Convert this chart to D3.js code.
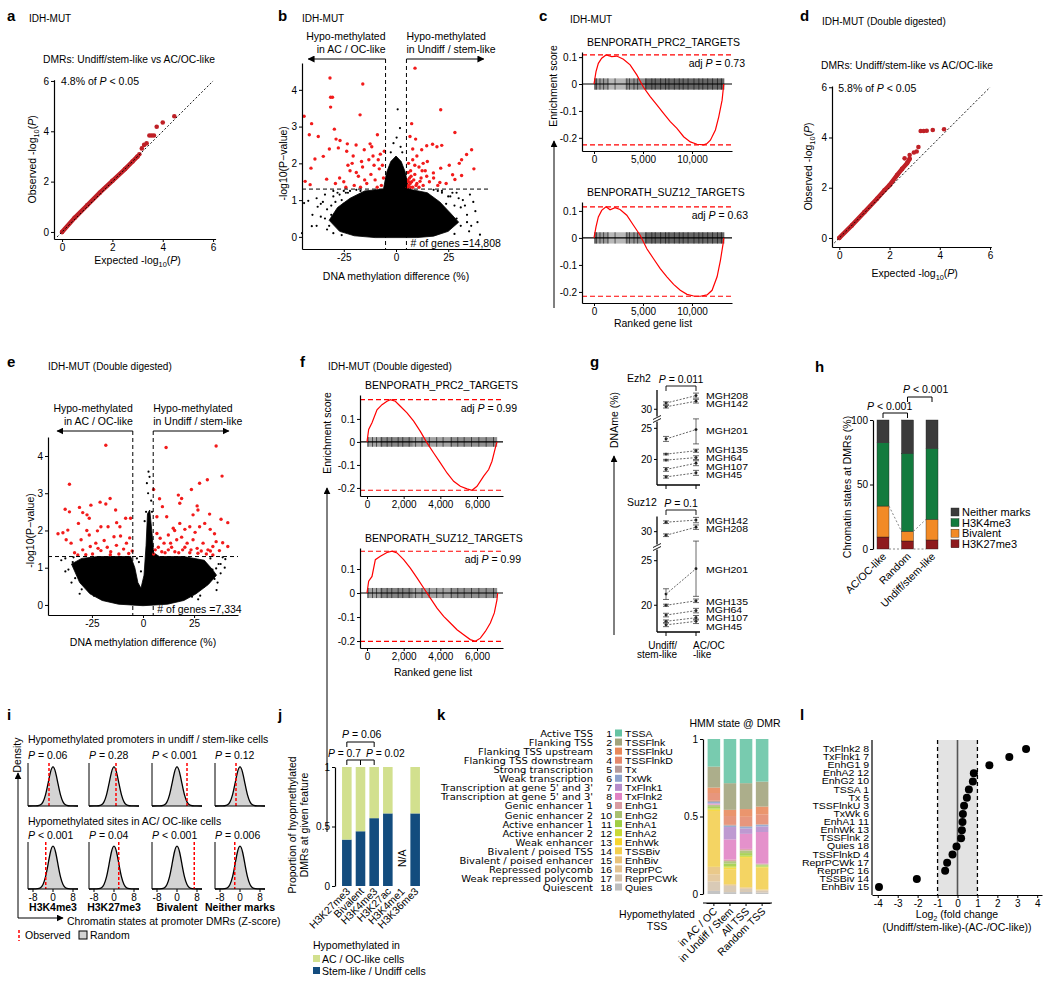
<!doctype html>
<html>
<head>
<meta charset="utf-8">
<title>IDH-MUT DMR figure</title>
<style>
  body { margin:0; background:#fff; }
  svg { font-family: "Liberation Sans", Arial, sans-serif; }
</style>
</head>
<body>
<script src="https://d3js.org/d3.v7.min.js"></script>
<script>
// ---------------- data ----------------
// a, d : QQ plots  [expected, observed]
var qqA = [[0,0],[0.5,0.56],[1,1.06],[1.5,1.56],[2,2.03],[2.5,2.5],[2.8,2.8],[3,3]];
var qqAOut = [[3.07,3.09],[3.17,3.32],[3.26,3.46],[3.36,3.52],[3.47,3.83],[3.56,3.83],[3.65,3.83],[3.76,4.18],[4,4.35],[4.46,4.6]];
var qqD = [[0,0],[0.5,0.5],[1,1.03],[1.5,1.56],[1.8,1.9],[2,2.1],[2.3,2.5],[2.5,2.75],[2.7,2.98],[2.8,3.15]];
var qqDOut = [[2.6,3.17],[2.8,3.3],[2.97,3.4],[3.08,3.44],[3.15,3.62],[3.24,4.26],[3.36,4.26],[3.48,4.27],[3.72,4.3],[4.17,4.33]];

// b : volcano (methylation difference %, -log10 p)
var bRed = [[-31.6,4.32],[-15.9,4.16],[-31.3,3.8],[-30.4,3.8],[-31.3,3.53],[-17.2,3.32],[-44,3.28],[-40.4,3.08],
  [9.1,4.59],[21.4,3.46],[7.5,3.08],[-29.5,2.93],[-41.5,2.78],[-37.2,2.73],[-8.9,2.78],[28.2,2.84],
  [6.7,2.73],[9.4,2.66],[-28.7,2.66],[-26.8,2.62],[-23.3,2.53],[-19.1,2.5],[-12.4,2.53],[-11.6,2.45],
  [14.7,2.48],[17.5,2.52],[19.6,2.45],[21.9,2.49],[8,2.39],[12.3,2.37],[-31.9,2.39],[-27.6,2.42],
  [-23.6,2.33],[-15.2,2.37],[-5.6,2.33],[-34.8,2.19],[-38.8,2.12],[31.4,2.1],[33.8,2.24],[36.2,2.37],
  [30.3,2.0],[25.5,1.95],[21.4,1.87],[37.3,1.85],[-40.7,1.87],[27.1,1.69],[31.4,1.67],[28.2,1.56],
  [-43.5,1.51],[-41.1,1.42],[-33.2,1.57],[17.9,1.74],[14.7,1.65],[21,1.48],[11.5,1.51],
  [-25,1.5],[-22,1.8],[-20,1.4],[-18,1.65],[-16,1.9],[-14,1.45],[-12,1.7],[-10,1.55],[-8,1.85],[-7,1.4],
  [-6,1.6],[-24,1.35],[-21,2.0],[-17,1.35],[-13,2.1],[-9,1.35],[-11,2.2],[-19,1.75],[-15,1.55],[-23,1.95],
  [-27,1.6],[-29,1.45],[-6.5,1.95],[-8.5,2.1],[-20.5,2.2],[-16.5,2.05],[-10.5,1.95],[-7.5,2.25],
  [6,1.4],[6.5,1.6],[7,1.8],[7.5,1.5],[8,1.35],[9,1.7],[10,1.45],[11,1.9],[12,1.6],[13,1.4],[6,2.0],
  [8,2.1],[10,2.2],[14,1.8],[16,1.5],[5.5,1.35],[7,1.35],[9,1.95],[6,1.5],[8.5,1.55],[18,1.6],[20,1.4],
  [15,2.05],[11,1.35],[5.8,1.75],[6.8,1.45],[7.2,1.65],[5.6,1.55],[9.6,1.4],[13,2.0],[24,1.45],[12.5,1.8]];
var bBlack = [[-44,0.92],[-42,0.98],[-40.3,0.29],[-37.5,0.82],[-35,0.95],[-33,0.75],[-30,1.1],[-36,0.55],
  [-28,1.2],[-38,1.05],[-25,1.25],[35.4,1.15],[40.2,0.06],[33,0.85],[30,1.05],[27,1.2],[36,0.3],
  [0.8,3.47],[1.9,2.96],[-1.2,2.55],[2.2,2.45],[0.3,2.7],[-2.5,2.3],[3,2.3],[-32,0.3],[38,0.7],
  [-34,0.5],[-31,0.85],[-29,0.4],[-26,1.0],[-23,1.2],[29,0.5],[31,0.8],[25,1.1],[22,1.25],[34,0.4],
  [-40,0.6],[-38,0.3],[-36,0.9],[-34,1.15],[-33,0.2],[-31,0.6],[-30,1.25],[-29,0.95],[-27,1.15],[-27,0.45],
  [-25,0.9],[-24,1.2],[-22,1.25],[-21,0.6],[-19,1.28],[-17,1.25],[-45,0.1],[22,1.2],[24,0.9],[26,1.1],
  [27,0.5],[28,0.85],[29,1.2],[31,0.3],[32,1.0],[34,0.6],[35,0.15],[37,0.95],[39,0.4],[20,1.25],[18,1.28],
  [-30,0.1],[-26,0.05],[28,0.08]];
var bCloudTop = [[-32,0.45],[-28,0.8],[-22,1.05],[-15,1.25],[-6,1.3],[-4.5,1.75],[-2.5,2.05],[0,2.2],
  [2.5,2.05],[4.5,1.75],[6,1.3],[15,1.2],[21,0.95],[26,0.65],[30,0.4]];
var bCloudBottom = [[25,0.15],[18,0.02],[10,-0.02],[-10,-0.02],[-20,0.03],[-27,0.15]];

// e : volcano, double digested
var eRed = [[-18.2,4.29],[11.3,4.23],[35.8,4.27],[-36,3.24],[38.7,3.46],[31.5,3.36],[27.7,3.27],[23.7,3.1],[5.2,3.1],
  [-16.1,2.86],[-21,2.76],[-18.2,2.71],[-25.5,2.68],[-31.1,2.62],[-13.4,2.55],[-38.1,2.57],[-36,2.5],
  [8.1,2.85],[17.3,2.95],[18.9,2.86],[9.5,2.64],[18,2.73],[26.5,2.66],[26.9,2.55],[32.6,2.44],[24.5,2.42],
  [38.2,2.3],[41.5,2.21],[-29.5,2.48],[-27.4,2.42],[-26.3,2.33],[-8.5,2.33],[-6.1,2.33],[-12.9,2.21],
  [-31.6,2.19],[-36.8,2.01],[-22.3,1.99],[-20.6,2.1],[-17.1,2.1],[-11.3,2.1],[-41.6,1.91],[-39.2,1.94],
  [-37.6,1.75],[-35.2,1.66],[-30.3,1.75],[-26.3,1.88],[-25.8,1.57],[-23.1,1.66],[-19,1.73],[-14.2,1.83],
  [-11,1.85],[-8.1,1.66],[-29.5,1.48],[-20.6,1.46],[-15.8,1.43],[-5.3,1.45],[-31.9,1.34],[-24.7,1.37],[-11.8,1.37],
  [6.8,2.37],[11.6,2.37],[18,2.19],[14.8,2.06],[20.5,2.03],[22.9,2.1],[27.7,2.1],[30.2,2.19],[32.9,2.03],
  [35,1.91],[35.8,1.7],[39,1.67],[41.5,1.57],[6.8,1.92],[8.4,1.79],[10.3,1.66],[12.4,1.88],[13.5,1.66],
  [16.5,1.75],[18.9,1.82],[21.6,1.66],[24.5,1.75],[26.5,1.52],[29.4,1.66],[31.8,1.48],[34.2,1.57],[37.4,1.46],
  [6,1.48],[9.2,1.43],[12.4,1.48],[15.6,1.43],[19.4,1.48],[22.9,1.4],[26.9,1.39],[31,1.37],[5.2,1.37],[34.2,1.34],
  [-33.5,1.4],[-28,1.35],[-22,1.52],[-17.5,1.55],[-13,1.6],[-9.5,1.5],[-7,1.38],[-16,1.35],[-6.5,1.8],[-27.5,2.0],
  [7.5,1.55],[10.8,1.4],[14,1.55],[17.5,1.4],[20.5,1.55],[23.5,1.48],[28.5,1.45],[33,1.45],[25.5,1.95],[15.5,2.0]];
var eBlack = [[-34.4,1.15],[-33.2,0.72],[-30,0.42],[-25.5,0.35],[-38,1.25],[-28,1.05],[-36.5,0.95],[35.8,0.98],
  [40.3,1.23],[38,1.1],[33,0.7],[28,0.25],[36.5,0.6],[2.7,3.58],[3.2,3.44],[1.9,3.27],[1.5,2.5],[0.8,2.25],
  [2.5,3.0],[4,2.8],[4.4,2.5],[-1,0.9],[-2,1.15],[-3,1.25],[-32,0.9],[-29,0.6],[30,0.5],[34,0.95],[-24,0.25],[24,0.22],
  [-40,1.2],[-38,0.9],[-35,0.6],[-33,1.0],[-31,0.3],[-29,0.8],[-27,1.2],[-26,0.55],[-24,0.9],[-22,0.4],[-34,1.28],
  [33,1.25],[35,0.7],[37,1.1],[38,0.85],[36,0.4],[31,0.9],[29,0.6],[27,0.15],[39,1.28],[40,1.0]];
var eCloudTop = [[-35,1.1],[-30,1.25],[-22,1.3],[-12,1.3],[-6,1.3],[-4,1.0],[-2.5,0.6],[-1,0.45],[0.5,0.8],
  [1.5,1.6],[2.2,2.45],[3.3,2.55],[4.3,2.0],[5.2,1.4],[8,1.3],[20,1.3],[30,1.2],[34,0.95],[36,0.8]];
var eCloudBottom = [[32,0.55],[26,0.3],[20,0.12],[12,0.02],[0,-0.02],[-12,0.02],[-20,0.12],[-26,0.3],[-31,0.6]];

// c, f : GSEA running enrichment score [rank, ES]
var cPrc2 = [[0,0],[205,0.046],[444,0.077],[785,0.096],[1229,0.108],[1809,0.102],[2321,0.104],[3003,0.092],
  [3686,0.071],[4369,0.034],[5051,-0.012],[5734,-0.047],[6416,-0.078],[7099,-0.109],[7782,-0.14],[8464,-0.165],
  [9147,-0.196],[9829,-0.215],[10512,-0.224],[11195,-0.226],[11536,-0.221],[11877,-0.209],[12389,-0.171],
  [12730,-0.122],[13072,-0.06],[13242,0]];
var cSuz12 = [[0,0],[205,0.041],[444,0.078],[785,0.102],[1229,0.115],[1638,0.104],[2150,0.112],[2662,0.105],
  [3345,0.084],[4027,0.047],[4710,0.01],[5392,-0.04],[6075,-0.077],[6758,-0.114],[7440,-0.144],[8123,-0.172],
  [8805,-0.194],[9488,-0.209],[10171,-0.215],[10853,-0.216],[11536,-0.211],[12048,-0.194],[12560,-0.144],
  [12901,-0.083],[13174,-0.021],[13242,0]];
var fPrc2 = [[0,0],[91,0.054],[273,0.083],[545,0.14],[818,0.162],[1091,0.177],[1273,0.184],[1545,0.177],
  [1818,0.155],[2182,0.126],[2545,0.09],[2909,0.046],[3273,-0.004],[3636,-0.048],[4000,-0.091],[4364,-0.135],
  [4727,-0.171],[5091,-0.193],[5455,-0.204],[5727,-0.21],[6000,-0.193],[6364,-0.149],[6636,-0.12],
  [6818,-0.084],[7000,-0.026],[7091,0]];
var fSuz12 = [[0,0],[91,0.049],[273,0.069],[455,0.139],[727,0.153],[1091,0.169],[1364,0.174],[1636,0.167],
  [2000,0.139],[2364,0.104],[2727,0.063],[3091,0.021],[3455,-0.021],[3818,-0.063],[4182,-0.097],[4545,-0.125],
  [4909,-0.153],[5273,-0.174],[5636,-0.194],[5909,-0.201],[6182,-0.188],[6455,-0.16],[6727,-0.125],
  [6945,-0.083],[7091,-0.028],[7127,0]];
var cBarcode = [[0,1500,0.5],[1500,3200,0.35],[3200,5200,0.55],[5200,13300,0.75]];
var fBarcode = [[0,700,0.45],[700,2500,0.6],[2500,4500,0.45],[4500,7100,0.55]];
var cHits = [120,260,610,980,1420,2150,3350,3620,4080,4450,5300,5900,6250,6800,7300,7650,8200,8700,9100,9600,10200,10700,11100,11600,12100,12600,13000];
var fHits = [60,300,520,800,1100,1350,1700,1950,2300,2650,3000,3400,3800,4150,4600,4950,5300,5700,6100,6500,6900];

// g : DNAme (%) at Ezh2 / Suz12 targets
var ezhPatients = ["MGH208","MGH142","MGH201","MGH135","MGH64","MGH107","MGH45"];
var ezhUndiff = [31.0,30.4,23.3,20.86,19.9,18.4,17.2];
var ezhAcOc = [32.2,31.3,24.8,21.4,20.3,19.4,17.85];
var ezhErrUndiff = [0.2,0.2,0.4,0.12,0.12,0.3,0.2];
var ezhErrAcOc = [0.4,0.3,2.3,0.25,0.3,0.4,0.4];
var suzPatients = ["MGH142","MGH208","MGH201","MGH135","MGH64","MGH107","MGH45"];
var suzUndiff = [31.06,29.6,21.25,20.0,18.9,18.2,17.8];
var suzAcOc = [31.3,30.5,24.1,20.5,19.4,18.6,18.2];
var suzErrUndiff = [0.15,0.15,0.6,0.12,0.2,0.15,0.2];
var suzErrAcOc = [0.3,0.25,3.1,0.2,0.25,0.25,0.25];

// h : chromatin states at DMRs (%)
var hGroups = ["AC/OC-like","Random","Undiff/stem-like"];
var hStates = ["H3K27me3","Bivalent","H3K4me3","Neither marks"];
var hH3K27me3 = [9.3,6.2,7.0];
var hBivalent = [24.0,7.5,16.0];
var hH3K4me3 = [49.1,60.5,55.0];
var hNeither = [17.6,25.8,22.0];

// i : observed z-scores vs random density
var iZ = [-10,-8,-6,-5,-4,-3,-2,-1,0,1,2,3,4,5,6,8,10];
var iDensity = [0,0,0.004,0.021,0.085,0.249,0.539,0.857,1,0.857,0.539,0.249,0.085,0.021,0.004,0,0];
var iMarks = ["H3K4me3","H3K27me3","Bivalent","Neither marks"];
var iObsUndiff = [-1.6,0.8,4.0,-1.6];
var iObsAcOc = [-2.9,1.9,6.9,-2.1];
var iPUndiff = ["= 0.06","= 0.28","< 0.001","= 0.12"];
var iPAcOc = ["< 0.001","= 0.04","< 0.001","= 0.006"];

// j : proportion of hypomethylated DMRs
var jFeatures = ["H3K27me3","Bivalent","H3K4me3","H3K27ac","H3K4me1","H3K36me3"];
var jStem = [0.39,0.46,0.57,0.61,null,0.61];
var jAcOc = [0.61,0.54,0.43,0.39,null,0.39];

// k : 18-state HMM
var kNames = ["Active TSS","Flanking TSS","Flanking TSS upstream","Flanking TSS downstream","Strong transcription",
  "Weak transcription","Transcription at gene 5' and 3'","Transcription at gene 5' and 3'","Genic enhancer 1",
  "Genic enhancer 2","Active enhancer 1","Active enhancer 2","Weak enhancer","Bivalent / poised TSS",
  "Bivalent / poised enhancer","Repressed polycomb","Weak repressed polycomb","Quiescent"];
var kAbbr = ["TSSA","TSSFlnk","TSSFlnkU","TSSFlnkD","Tx","TxWk","TxFlnk1","TxFlnk2","EnhG1","EnhG2","EnhA1",
  "EnhA2","EnhWk","TSSBiv","EnhBiv","ReprPC","ReprPCWk","Quies"];
var kColors = ["#66c4a4","#a1a37c","#e8875a","#e4886c","#b49a9a","#8ea2cc","#b68ccb","#e182c4","#d89ca2","#a9c070",
  "#9fce44","#c8d936","#f6d52e","#f3cf4e","#e8c27b","#e2c393","#d4c3ad","#bdbdbd"];
var kGroups = ["in AC / OC","in Undiff / Stem","All TSS","Random TSS"];
var kAcOc = [0.178,0.135,0.035,0.05,0.008,0.008,0.004,0.004,0.004,0.012,0.01,0.008,0.008,0.36,0.05,0.045,0.06,0.02];
var kUndiff = [0.285,0.172,0.04,0.057,0.006,0.008,0.08,0.13,0.01,0.015,0.017,0.01,0.01,0.097,0.005,0.006,0.04,0.012];
var kAll = [0.285,0.167,0.05,0.06,0.005,0.01,0.035,0.097,0.01,0.017,0.017,0.008,0.006,0.19,0.005,0.005,0.02,0.013];
var kRandom = [0.275,0.161,0.05,0.064,0.004,0.01,0.036,0.204,0.005,0.006,0.008,0.004,0.004,0.14,0.004,0.004,0.012,0.009];

// l : log2 fold change per state (top to bottom)
var lStates = ["TxFlnk2 8","TxFlnk1 7","EnhG1 9","EnhA2 12","EnhG2 10","TSSA 1","Tx 5","TSSFlnkU 3","TxWk 6",
  "EnhA1 11","EnhWk 13","TSSFlnk 2","Quies 18","TSSFlnkD 4","ReprPCWk 17","ReprPC 16","TSSBiv 14","EnhBiv 15"];
var lFold = [3.44,2.6,1.6,0.82,0.77,0.57,0.47,0.33,0.27,0.25,0.22,0.18,-0.05,-0.25,-0.52,-0.62,-2.04,-3.94];

// ---------------- helpers ----------------
var svg = d3.select("body").append("svg").attr("width",1050).attr("height",984);
svg.append("rect").attr("width",1050).attr("height",984).attr("fill","#fff");
var defs = svg.append("defs");
defs.append("marker").attr("id","arr").attr("viewBox","0 0 10 10").attr("refX",9).attr("refY",5)
  .attr("markerWidth",7).attr("markerHeight",7).attr("markerUnits","userSpaceOnUse")
  .attr("orient","auto-start-reverse")
  .append("path").attr("d","M0,0L10,5L0,10z").attr("fill","#000");

function T(x, y, parts, o) {
  o = o || {};
  var size = o.size || 10;
  var t = svg.append("text").attr("font-size",size).attr("text-anchor",o.anchor || "start");
  if (o.sy) t.attr("x",0).attr("y",0).attr("transform","translate(" + x + "," + y + ") scale(1," + o.sy + ")");
  else t.attr("x",x).attr("y",y);
  if (o.weight) t.attr("font-weight",o.weight);
  if (o.family) t.attr("font-family",o.family);
  if (o.fill) t.attr("fill",o.fill);
  if (o.rotate) t.attr("transform","rotate(" + o.rotate + "," + x + "," + y + ")");
  if (typeof parts === "string") parts = [parts];
  var shift = 0;
  parts.forEach(function(p) {
    var s = t.append("tspan");
    if (shift) { s.attr("dy",-shift); shift = 0; }
    if (typeof p === "string") s.text(p);
    else if (p.i) s.attr("font-style","italic").text(p.i);
    else if (p.sub) { s.attr("font-size",size*0.7).attr("dy",size*0.28).text(p.sub); shift = size*0.28; }
  });
  return t;
}
function axis(orient, pos, scale, ticks, fmt, tsize) {
  var a = (orient === "left" ? d3.axisLeft : d3.axisBottom)(scale).tickValues(ticks)
    .tickSize(tsize == null ? 3 : tsize).tickSizeOuter(0).tickPadding(2)
    .tickFormat(fmt || function(d){ return String(d); });
  var g = svg.append("g")
    .attr("transform", orient === "left" ? "translate(" + pos + ",0)" : "translate(0," + pos + ")")
    .call(a);
  g.attr("font-family",null).attr("font-size",10);
  g.select(".domain").attr("stroke-width",1.2);
  return g;
}
function line(x1,y1,x2,y2,o) {
  o = o || {};
  var l = svg.append("line").attr("x1",x1).attr("y1",y1).attr("x2",x2).attr("y2",y2)
    .attr("stroke",o.stroke || "#000").attr("stroke-width",o.width || 1);
  if (o.dash) l.attr("stroke-dasharray",o.dash);
  if (o.arrow) l.attr("marker-end","url(#arr)");
  return l;
}
function letter(x, y, s) { T(x, y, s, {size:15, weight:"bold"}); }

// ---------------- a / d : QQ ----------------
function qq(o) {
  var x = d3.scaleLinear().domain(o.xd).range(o.xr);
  var y = d3.scaleLinear().domain(o.yd).range(o.yr);
  svg.append("path").attr("d", d3.line().x(function(d){return x(d[0]);}).y(function(d){return y(d[1]);})(o.dense))
    .attr("fill","none").attr("stroke","#bf2026").attr("stroke-width",4.5).attr("stroke-linecap","round");
  svg.append("g").selectAll("circle").data(o.dense.concat(o.out)).join("circle")
    .attr("cx",function(d){return x(d[0]);}).attr("cy",function(d){return y(d[1]);})
    .attr("r",2.3).attr("fill","#bf2026");
  line(x(-0.2), y(-0.2), x(6), y(6), {dash:"2,2", width:0.9});
  axis("left", o.xr[0], y, [0,2,4,6]);
  axis("bottom", o.yr[0], x, [0,2,4,6]);
  T(x(0) - 1, o.pY, [o.pct + " of ", {i:"P"}, " < 0.05"], {size:10.5});
  T(o.ylx, (o.yr[0] + o.yr[1]) / 2, ["Observed -log", {sub:"10"}, "(", {i:"P"}, ")"], {anchor:"middle", rotate:-90, size:10.5});
  T((x(0) + x(6)) / 2, o.xlY, ["Expected -log", {sub:"10"}, "(", {i:"P"}, ")"], {anchor:"middle", size:10.5});
}
letter(7, 21, "a");
T(29, 22, "IDH-MUT");
T(129, 63, "DMRs: Undiff/stem-like vs AC/OC-like", {anchor:"middle", size:10.3});
qq({xd:[-0.32,6.1], xr:[54,215.6], yd:[-0.28,6.05], yr:[239,79.7], dense:qqA, out:qqAOut,
    pct:"4.8%", pY:85, ylx:36, xlY:264});

letter(800, 21, "d");
T(822, 25, "IDH-MUT (Double digested)");
T(907, 69, "DMRs: Undiff/stem-like vs AC/OC-like", {anchor:"middle", size:10.3});
qq({xd:[-0.29,6.05], xr:[832,991.3], yd:[-0.36,6.05], yr:[247,86], dense:qqD, out:qqDOut,
    pct:"5.8%", pY:92, ylx:812, xlY:277});

// ---------------- b / e : volcano ----------------
function volcano(o) {
  var x = d3.scaleLinear().domain(o.xd).range(o.xr);
  var y = d3.scaleLinear().domain(o.yd).range(o.yr);
  var poly = o.top.concat(o.bottom);
  svg.append("path")
    .attr("d", d3.line().x(function(d){return x(d[0]);}).y(function(d){return y(d[1]);})
      .curve(d3.curveLinearClosed)(poly))
    .attr("fill","#000").attr("stroke","#000").attr("stroke-width",0.8);
  svg.append("g").selectAll("circle").data(o.black).join("circle")
    .attr("cx",function(d){return x(d[0]);}).attr("cy",function(d){return y(d[1]);}).attr("r",1.1).attr("fill","#000");
  svg.append("g").selectAll("circle").data(o.red).join("circle")
    .attr("cx",function(d){return x(d[0]);}).attr("cy",function(d){return y(d[1]);}).attr("r",1.7).attr("fill","#f21b1b");
  line(o.xr[0], y(1.3), o.xr[1], y(1.3), {dash:"4,3", width:1});
  line(x(-5), o.arrowY, x(-5), o.yr[0], {dash:"4,3", width:1});
  line(x(5), o.arrowY, x(5), o.yr[0], {dash:"4,3", width:1});
  line(x(-5), o.arrowY, x(-42), o.arrowY, {arrow:true, width:1});
  line(x(5), o.arrowY, x(42), o.arrowY, {arrow:true, width:1});
  T(x(-5), o.arrowY - 19, "Hypo-methylated", {anchor:"end", size:10.5});
  T(x(-5), o.arrowY - 6, "in AC / OC-like", {anchor:"end", size:10.5});
  T(x(5), o.arrowY - 19, "Hypo-methylated", {size:10.5});
  T(x(5), o.arrowY - 6, "in Undiff / stem-like", {size:10.5});
  axis("left", o.xr[0], y, [0,1,2,3,4]);
  axis("bottom", o.yr[0], x, [-25,0,25]);
  T(x(7), o.yr[0] - 2, "# of genes =" + o.n, {size:10.5});
  T(o.ylx, y(2), "-log10(P\u2212value)", {anchor:"middle", rotate:-90, size:10.5});
  T(x(0), o.yr[0] + 31, "DNA methylation difference (%)", {anchor:"middle", size:10.5});
}
letter(278, 21, "b");
T(302, 22, "IDH-MUT");
volcano({xd:[-45,45], xr:[302,490], yd:[-0.33,4.73], yr:[249,63], arrowY:59, n:"14,808",
  top:bCloudTop, bottom:bCloudBottom, red:bRed, black:bBlack, ylx:287});

letter(7, 367, "e");
T(48, 370, "IDH-MUT (Double digested)");
volcano({xd:[-46.5,46.5], xr:[48,238], yd:[-0.27,4.51], yr:[615,437], arrowY:431, n:"7,334",
  top:eCloudTop, bottom:eCloudBottom, red:eRed, black:eBlack, ylx:34});

// ---------------- c / f : GSEA ----------------
function gsea(o) {
  var x = d3.scaleLinear().domain(o.xd).range(o.xr);
  var y = d3.scaleLinear().domain(o.yd).range(o.yr);
  svg.append("g").selectAll("rect").data(o.bar).join("rect")
    .attr("x",function(d){return x(d[0]);}).attr("width",function(d){return x(d[1]) - x(d[0]);})
    .attr("y",y(0.021)).attr("height",y(-0.021) - y(0.021))
    .attr("fill","#000").attr("opacity",function(d){return d[2] * 0.8;});
  svg.append("g").selectAll("line").data(o.hits).join("line")
    .attr("x1",function(d){return x(d);}).attr("x2",function(d){return x(d);})
    .attr("y1",y(0.021)).attr("y2",y(-0.021)).attr("stroke","#000").attr("stroke-width",1).attr("opacity",0.55);
  line(o.xr[0], y(0), o.xr[1], y(0), {width:1.2});
  svg.append("path").attr("d", d3.line().x(function(d){return x(d[0]);}).y(function(d){return y(d[1]);})(o.es))
    .attr("fill","none").attr("stroke","#f00").attr("stroke-width",1.2);
  var ext = d3.extent(o.es, function(d){return d[1];});
  line(o.xr[0], y(ext[1]), o.xr[1], y(ext[1]), {stroke:"#f00", dash:"5,3", width:1.2});
  line(o.xr[0], y(ext[0]), o.xr[1], y(ext[0]), {stroke:"#f00", dash:"5,3", width:1.2});
  axis("left", o.xr[0], y, o.yt);
  axis("bottom", o.yr[0], x, o.xt, d3.format(","));
  T(o.xr[0] + 5, o.yr[1] - 6, o.title, {size:10.5});
  T(o.pX, y(ext[1]) + 12, ["adj ", {i:"P"}, " = " + o.p], {anchor:"end", size:10.5});
}
letter(539, 21, "c");
T(570, 23, "IDH-MUT");
gsea({xd:[-1224,14082], xr:[582,732], yd:[-0.249,0.119], yr:[151,52], es:cPrc2, bar:cBarcode, hits:cHits,
  yt:[-0.2,-0.1,0,0.1], xt:[0,5000,10000], title:"BENPORATH_PRC2_TARGETS", p:"0.73", pX:745});
gsea({xd:[-1224,14082], xr:[582,732], yd:[-0.241,0.133], yr:[303,202], es:cSuz12, bar:cBarcode, hits:cHits,
  yt:[-0.2,-0.1,0,0.1], xt:[0,5000,10000], title:"BENPORATH_SUZ12_TARGETS", p:"0.63", pX:748});
T(557, 86, "Enrichment score", {anchor:"middle", rotate:-90, size:10.5});
line(554, 308, 554, 141, {arrow:true});
T(653, 327, "Ranked gene list", {anchor:"middle", size:10.5});

letter(300, 367, "f");
T(328, 370, "IDH-MUT (Double digested)");
gsea({xd:[-382,7418], xr:[360,503], yd:[-0.235,0.204], yr:[496,395], es:fPrc2, bar:fBarcode, hits:fHits,
  yt:[-0.2,-0.1,0,0.1], xt:[0,2000,4000,6000], title:"BENPORATH_PRC2_TARGETS", p:"0.99", pX:517});
gsea({xd:[-382,7418], xr:[360,503], yd:[-0.229,0.1875], yr:[648,548], es:fSuz12, bar:fBarcode, hits:fHits,
  yt:[-0.2,-0.1,0,0.1], xt:[0,2000,4000,6000], title:"BENPORATH_SUZ12_TARGETS", p:"0.99", pX:521});
T(331, 433, "Enrichment score", {anchor:"middle", rotate:-90, size:10.5});
line(327, 832, 327, 488, {arrow:true});
T(433, 676, "Ranked gene list", {anchor:"middle", size:10.5});

// ---------------- g : paired DNAme ----------------
var gx = d3.scalePoint().domain(["Undiff","AC/OC"]).range([666,696]);
function paired(o) {
  var y = d3.scaleLinear().domain(o.yd).range(o.yr);
  var axTop = o.yr[o.yr.length - 1], axBot = o.yr[0];
  line(657, axTop, 657, axBot, {width:1.3});
  o.ticks.forEach(function(t) { line(654, y(t), 657, y(t)); T(652, y(t) + 3.5, String(t), {anchor:"end"}); });
  svg.append("rect").attr("x",652).attr("y",o.brk - 2.5).attr("width",10).attr("height",5).attr("fill","#fff");
  line(653, o.brk + 0.5, 661, o.brk - 3.5, {width:0.9});
  line(653, o.brk + 3.5, 661, o.brk - 0.5, {width:0.9});
  line(657, axBot, 700, axBot, {width:1.3});
  gx.domain().forEach(function(k) { line(gx(k), axBot, gx(k), axBot + 4); });
  var g = svg.append("g");
  o.names.forEach(function(nm, i) {
    var a = o.undiff[i], b = o.acoc[i];
    line(gx("Undiff"), y(a), gx("AC/OC"), y(b), {dash:"2,1.5", stroke:"#555", width:0.9});
    [[gx("Undiff"), a, o.eu[i]], [gx("AC/OC"), b, o.ea[i]]].forEach(function(p) {
      line(p[0], y(p[1] + p[2]), p[0], y(p[1] - p[2]), {stroke:"#444", width:0.8});
      line(p[0] - 3, y(p[1] + p[2]), p[0] + 3, y(p[1] + p[2]), {stroke:"#444", width:0.8});
      line(p[0] - 3, y(p[1] - p[2]), p[0] + 3, y(p[1] - p[2]), {stroke:"#444", width:0.8});
      g.append("circle").attr("cx",p[0]).attr("cy",y(p[1])).attr("r",1.4).attr("fill","#000");
    });
  });
  // labels: relax overlapping neighbours apart
  var ly = o.acoc.map(function(v){ return y(v) + 4.5; });
  for (var it = 0; it < 60; it++) {
    for (var i = 1; i < ly.length; i++) {
      var gap = ly[i] - ly[i-1];
      if (gap < 8.4) { var d = (8.4 - gap) / 2; ly[i] += d; ly[i-1] -= d; }
    }
  }
  o.names.forEach(function(nm, i) { T(706, ly[i], nm, {size:10.5, sy:0.8}); });
  T(627, o.titleY, o.title, {size:10.5});
  line(666, o.titleY + 4, 696, o.titleY + 4, {width:0.9});
  line(666, o.titleY + 4, 666, o.titleY + 9, {width:0.9});
  line(696, o.titleY + 4, 696, o.titleY + 9, {width:0.9});
  T(681, o.titleY + 1, [{i:"P"}, " = " + o.p], {anchor:"middle", size:10.5});
}
letter(590, 367, "g");
paired({yd:[15.9,26.5,28.5,33.1], yr:[485,419,418.6,390], ticks:[20,25,30], brk:419, names:ezhPatients,
  undiff:ezhUndiff, acoc:ezhAcOc, eu:ezhErrUndiff, ea:ezhErrAcOc, title:"Ezh2", titleY:382, p:"0.011"});
paired({yd:[17,27.3,29.2,31.7], yr:[632,540.2,538.8,516.5], ticks:[20,25,30], brk:547, names:suzPatients,
  undiff:suzUndiff, acoc:suzAcOc, eu:suzErrUndiff, ea:suzErrAcOc, title:"Suz12", titleY:506, p:"0.1"});
T(618, 420, "DNAme (%)", {anchor:"middle", rotate:-90, size:10.5});
line(614, 635, 614, 456, {arrow:true});
T(677, 648.5, "Undiff/", {anchor:"end", size:10});
T(677, 658, "stem-like", {anchor:"end", size:10});
T(693, 648.5, "AC/OC", {size:10});
T(693, 658, "-like", {size:10});

// ---------------- h : stacked chromatin states ----------------
letter(815, 372, "h");
(function() {
  var x = d3.scalePoint().domain(hGroups).range([883,932]);
  var y = d3.scaleLinear().domain([0,100]).range([549,420]);
  var colors = {"H3K27me3":"#8e1a1d","Bivalent":"#f28a26","H3K4me3":"#137b3e","Neither marks":"#3b3b3b"};
  var rows = hGroups.map(function(gname, i) {
    return {g:gname, "H3K27me3":hH3K27me3[i], "Bivalent":hBivalent[i], "H3K4me3":hH3K4me3[i], "Neither marks":hNeither[i]};
  });
  var series = d3.stack().keys(hStates)(rows);
  svg.append("g").selectAll("g").data(series).join("g").attr("fill",function(s){return colors[s.key];})
    .selectAll("rect").data(function(s){return s;}).join("rect")
    .attr("x",function(d){return x(d.data.g) - 6;}).attr("width",12)
    .attr("y",function(d){return y(d[1]);}).attr("height",function(d){return y(d[0]) - y(d[1]);})
    .attr("stroke","#222").attr("stroke-width",0.4);
  var biv = series[1];
  for (var i = 0; i < 2; i++) {
    line(x(hGroups[i]) + 6, y(biv[i][1]), x(hGroups[i+1]) - 6, y(biv[i+1][1]), {stroke:"#888", dash:"2,2"});
    line(x(hGroups[i]) + 6, y(0), x(hGroups[i+1]) - 6, y(0), {stroke:"#888", dash:"2,2"});
  }
  axis("left", 873, y, [0,50,100]);
  hGroups.forEach(function(gname) {
    T(x(gname) + 4, 557, gname, {anchor:"end", rotate:-45, size:10.5});
  });
  T(851, 487, "Chromatin states at DMRs (%)", {anchor:"middle", rotate:-90, size:10.5});
  // p brackets
  line(x(hGroups[0]), 413, x(hGroups[1]), 413); line(x(hGroups[0]), 413, x(hGroups[0]), 418); line(x(hGroups[1]), 413, x(hGroups[1]), 418);
  T(867, 410, [{i:"P"}, " < 0.001"], {size:10.5});
  line(x(hGroups[1]), 397, x(hGroups[2]), 397); line(x(hGroups[1]), 397, x(hGroups[1]), 402); line(x(hGroups[2]), 397, x(hGroups[2]), 402);
  T(903, 393, [{i:"P"}, " < 0.001"], {size:10.5});
  hStates.slice().reverse().forEach(function(s, i) {
    svg.append("rect").attr("x",951).attr("y",508 + i * 10.6).attr("width",8).attr("height",8)
      .attr("fill",colors[s]).attr("stroke","#222").attr("stroke-width",0.4);
    T(962, 516 + i * 10.6, s, {size:11});
  });
})();

// ---------------- i : density panels ----------------
letter(7, 720, "i");
(function() {
  var px = [28,89,152,215];
  function row(obs, ps, top, bot, pY) {
    var y = d3.scaleLinear().domain([0,1]).range([bot, top + 2]);
    px.forEach(function(x0, k) {
      var x = d3.scaleLinear().domain([-10,10]).range([x0, x0 + 50]);
      var pts = iZ.map(function(z, j){ return [z, iDensity[j]]; });
      svg.append("path").attr("d", d3.area().x(function(d){return x(d[0]);}).y0(bot).y1(function(d){return y(d[1]);})
        .curve(d3.curveBasis)(pts)).attr("fill","#d4d4d4");
      svg.append("path").attr("d", d3.line().x(function(d){return x(d[0]);}).y(function(d){return y(d[1]);})
        .curve(d3.curveBasis)(pts)).attr("fill","none").attr("stroke","#000").attr("stroke-width",1.3);
      line(x(obs[k]), top, x(obs[k]), bot, {stroke:"#f00", dash:"3,2", width:1.5});
      line(x0, top, x0, bot, {width:1});
      line(x0, bot, x0 + 50, bot, {width:1});
      T(x0, pY, [{i:"P"}, " " + ps[k]], {size:10.5});
      if (bot > 850) {
        [-8,0,8].forEach(function(t){ line(x(t), bot, x(t), bot + 3); T(x(t), bot + 12, String(t), {anchor:"middle"}); });
        T(x(0), 911, iMarks[k], {anchor:"middle", weight:"bold", size:10.5});
      }
    });
  }
  T(28, 743, "Hypomethylated promoters in undiff / stem-like cells", {size:10.5});
  row(iObsUndiff, iPUndiff, 763, 806, 759);
  T(28, 825, "Hypomethylated sites in AC/ OC-like cells", {size:10.5});
  row(iObsAcOc, iPAcOc, 842, 889, 839);
  T(21, 755, "Density", {anchor:"middle", rotate:-90, size:10.5});
  line(18, 918, 18, 773, {arrow:true});
  line(18, 918, 63, 918, {arrow:true});
  T(67, 925, "Chromatin states at promoter DMRs (Z-score)", {size:10.5});
  line(19, 930, 19, 941, {stroke:"#f00", dash:"3,2", width:1.5});
  T(25, 939, "Observed", {size:10.5});
  svg.append("rect").attr("x",79).attr("y",931).attr("width",8).attr("height",8).attr("fill","#d4d4d4").attr("stroke","#000");
  T(90, 939, "Random", {size:10.5});
})();

// ---------------- j : proportion bars ----------------
letter(278, 720, "j");
(function() {
  var x = d3.scaleBand().domain(jFeatures).range([340,422]).paddingInner(0.3).paddingOuter(0.15);
  var y = d3.scaleLinear().domain([0,1]).range([886,767]);
  var rows = jFeatures.map(function(f, i){ return {f:f, stem:jStem[i], ac:jAcOc[i]}; })
    .filter(function(r){ return r.stem != null; });
  var series = d3.stack().keys(["stem","ac"])(rows);
  var col = {stem:"#134c7e", ac:"#d2e08e"};
  svg.append("g").selectAll("g").data(series).join("g").attr("fill",function(s){return col[s.key];})
    .selectAll("rect").data(function(s){return s;}).join("rect")
    .attr("x",function(d){return x(d.data.f);}).attr("width",x.bandwidth())
    .attr("y",function(d){return y(d[1]);}).attr("height",function(d){return y(d[0]) - y(d[1]);});
  axis("left", 335, y, [0,0.5,1]);
  jFeatures.forEach(function(f) {
    T(x(f) + x.bandwidth() / 2 + 4, 892, f, {anchor:"end", rotate:-45, size:10.5});
  });
  jFeatures.forEach(function(f, i) {
    if (jStem[i] == null) T(x(f) + x.bandwidth() / 2 + 4, 867, "N/A", {rotate:-90, size:10.5});
  });
  function br(a, b, yy) {
    var xa = x(a) + x.bandwidth() / 2, xb = x(b) + x.bandwidth() / 2;
    line(xa, yy, xb, yy); line(xa, yy, xa, yy + 5); line(xb, yy, xb, yy + 5);
  }
  br("H3K27me3","H3K4me3",742); T(342, 738, [{i:"P"}, " = 0.06"], {size:10.5});
  br("H3K27me3","Bivalent",760); T(328, 757, [{i:"P"}, " = 0.7"], {size:10.3});
  br("Bivalent","H3K4me3",760); T(366, 757, [{i:"P"}, " = 0.02"], {size:10.3});
  T(296, 825, "Proportion of hyopmethylated", {anchor:"middle", rotate:-90, size:10.5});
  T(308, 825, "DMRs at given feature", {anchor:"middle", rotate:-90, size:10.5});
  T(313, 949, "Hypomethylated in", {size:10.5});
  svg.append("rect").attr("x",313).attr("y",955).attr("width",7).attr("height",7).attr("fill",col.ac);
  T(322, 963, "AC / OC-like cells", {size:10.5});
  svg.append("rect").attr("x",313).attr("y",967).attr("width",7).attr("height",7).attr("fill",col.stem);
  T(322, 975, "Stem-like / Undiff cells", {size:10.5});
})();

// ---------------- k : HMM states ----------------
letter(437, 720, "k");
(function() {
  kNames.forEach(function(nm, i) {
    var yy = 737 + i * 9.06;
    T(593, yy, nm, {anchor:"end", family:"DejaVu Sans", size:10, sy:0.88});
    T(612, yy, String(i + 1), {anchor:"end", size:10.5, sy:0.88});
    svg.append("rect").attr("x",615).attr("y",yy - 7.5).attr("width",7).attr("height",7).attr("fill",kColors[i]);
    T(625, yy, kAbbr[i], {size:10.5, sy:0.88});
  });
  var x = d3.scaleBand().domain(kGroups).range([706,770]).paddingInner(0.22).paddingOuter(0.1);
  var y = d3.scaleLinear().domain([0,1]).range([894,739]);
  var cols = [kAcOc, kUndiff, kAll, kRandom];
  var rows = kGroups.map(function(gname, gi) {
    var r = {g:gname}, tot = d3.sum(cols[gi]);
    kAbbr.forEach(function(a, si){ r[a] = cols[gi][si] / tot; });
    return r;
  });
  var series = d3.stack().keys(kAbbr.slice().reverse())(rows);
  svg.append("g").selectAll("g").data(series).join("g")
    .attr("fill",function(s){ return kColors[kAbbr.indexOf(s.key)]; }).attr("opacity",0.88)
    .selectAll("rect").data(function(s){return s;}).join("rect")
    .attr("x",function(d){return x(d.data.g);}).attr("width",x.bandwidth())
    .attr("y",function(d){return y(d[1]);}).attr("height",function(d){return y(d[0]) - y(d[1]);});
  axis("left", 703, y, [0,0.5,1]);
  axis("bottom", 903, x, kGroups, function(){ return ""; });
  line(703, 903, 772, 903, {width:1.2});
  kGroups.forEach(function(gname) {
    T(x(gname) + x.bandwidth() / 2 + 4, 912, gname, {anchor:"end", rotate:-45, size:10.5});
  });
  T(735, 727, "HMM state @ DMR", {anchor:"middle", size:10.5});
  T(657, 918, "Hypomethylated", {anchor:"middle", size:10.5});
  T(657, 930, "TSS", {anchor:"middle", size:10.5});
})();

// ---------------- l : fold change dots ----------------
letter(800, 720, "l");
(function() {
  var x = d3.scaleLinear().domain([-4.29,4.24]).range([872,1042]);
  var y = d3.scalePoint().domain(lStates).range([749,887]);
  svg.append("rect").attr("x",x(-1)).attr("width",x(1) - x(-1)).attr("y",740).attr("height",155).attr("fill","#e3e3e3");
  line(x(-1), 740, x(-1), 895, {dash:"4,3", width:1.3});
  line(x(1), 740, x(1), 895, {dash:"4,3", width:1.3});
  line(x(0), 740, x(0), 895, {stroke:"#555", width:1.6});
  svg.append("g").selectAll("circle").data(lStates).join("circle")
    .attr("cx",function(d, i){ return x(lFold[i]); }).attr("cy",function(d){ return y(d); })
    .attr("r",4).attr("fill","#000");
  line(872, 740, 872, 895, {width:1.2});
  axis("bottom", 895, x, [-4,-3,-2,-1,0,1,2,3,4]);
  lStates.forEach(function(s){ T(869, y(s) + 3, s, {anchor:"end", size:10.5, sy:0.78}); });
  T(957, 918, ["Log", {sub:"2"}, " (fold change"], {anchor:"middle", size:10.5});
  T(957, 931, "(Undiff/stem-like)-(AC-/OC-like))", {anchor:"middle", size:10.5});
})();
</script>
</body>
</html>
